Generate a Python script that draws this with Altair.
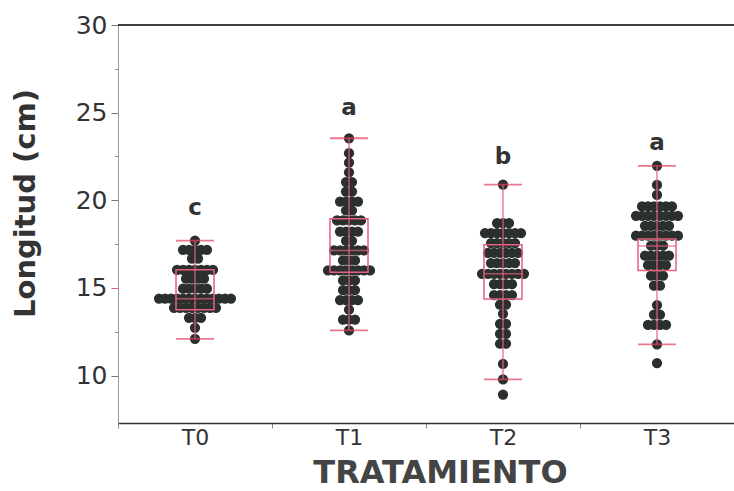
import altair as alt
import pandas as pd

treatments = ["T0", "T1", "T2", "T3"]

# Dot rows (value, number of dots in that row)
t0_vals = [17.7, 17.18, 16.67, 16.04, 15.53, 14.96, 14.39, 13.87, 13.3, 12.73, 12.1]
t0_counts = [1, 5, 2, 7, 4, 5, 13, 8, 3, 1, 1]
t1_vals = [23.54, 22.69, 22.15, 21.6, 21.04, 20.5, 19.93, 19.42, 18.85, 18.22,
           17.69, 17.14, 16.57, 16.0, 15.43, 14.88, 14.31, 13.76, 13.19, 12.58]
t1_counts = [1, 1, 1, 1, 2, 2, 4, 2, 5, 4, 2, 6, 3, 8, 3, 3, 4, 1, 3, 1]
t2_vals = [20.9, 18.7, 18.13, 17.56, 17.0, 16.42, 15.81, 15.22, 14.6, 14.05,
           13.53, 12.96, 12.39, 11.82, 10.67, 9.79, 8.92]
t2_counts = [1, 3, 7, 5, 6, 5, 8, 4, 4, 2, 1, 2, 2, 2, 1, 1, 1]
t3_vals = [21.97, 20.88, 20.31, 19.65, 19.12, 18.55, 17.98, 17.41, 16.84, 16.31,
           15.7, 15.13, 14.03, 13.48, 12.89, 11.79, 10.72]
t3_counts = [1, 1, 1, 6, 8, 5, 8, 3, 5, 4, 3, 2, 1, 2, 4, 1, 1]

# Box plot statistics
box_q1 = [13.76, 15.9, 14.37, 16.0]
box_med = [14.39, 17.14, 15.81, 17.4]
box_q3 = [16.04, 18.95, 17.46, 17.79]
box_lo = [12.1, 12.58, 9.79, 11.79]
box_hi = [17.7, 23.54, 20.9, 21.97]

# Significance letters
letters = ["c", "a", "b", "a"]
letter_y = [19.17, 24.87, 22.08, 22.88]

rows = []
for trt, vals, counts in zip(treatments, [t0_vals, t1_vals, t2_vals, t3_vals],
                             [t0_counts, t1_counts, t2_counts, t3_counts]):
    for v, n in zip(vals, counts):
        for k in range(n):
            rows.append({"trt": trt, "value": v, "slot": k - (n - 1) / 2})
pts = pd.DataFrame(rows)

box = pd.DataFrame({"trt": treatments, "q1": box_q1, "med": box_med, "q3": box_q3,
                    "lo": box_lo, "hi": box_hi, "letter": letters, "ly": letter_y})

FONT = "DejaVu Sans"
PINK = "#e4607f"

x_axis = alt.Axis(title="TRATAMIENTO", tickBand="extent", labelAngle=0,
                  labelFont=FONT, labelFontSize=22, labelColor="#333333",
                  labelPadding=-1, tickSize=5, tickColor="#888888",
                  domainColor="#333333", domainWidth=1.5,
                  titleFont=FONT, titleFontSize=32, titleFontWeight="bold",
                  titleColor="#444444", titleX=322, titleY=49,
                  titleBaseline="middle", titleAlign="center")
y_axis = alt.Axis(title="Longitud (cm)",
                  values=[10, 12.5, 15, 17.5, 20, 22.5, 25, 27.5, 30],
                  labelExpr="datum.value % 5 == 0 ? datum.label : ''",
                  tickSize={"condition": {"test": "datum.value % 5 != 0", "value": 3}, "value": 7},
                  tickColor={"condition": {"test": "datum.value == 15", "value": "#e06070"}, "value": "#777777"},
                  domainColor="#999999", grid=False,
                  labelFont=FONT, labelFontSize=25, labelColor="#333333", labelPadding=4,
                  titleFont=FONT, titleFontSize=29, titleFontWeight="bold",
                  titleColor="#333333", titleX=-93, titleY=178,
                  titleBaseline="middle", titleAlign="center", titleAngle=-90)

xs = alt.Scale(domain=treatments, paddingInner=0, paddingOuter=0)
ys = alt.Scale(domain=[7.3, 30], nice=False, zero=False)


def X():
    return alt.X("trt:N", scale=xs, axis=x_axis, title="TRATAMIENTO")


def Y(field):
    return alt.Y(f"{field}:Q", scale=ys, axis=y_axis, title="Longitud (cm)")


dots = alt.Chart(pts).mark_circle(size=105, color="#2b302e", opacity=1).encode(
    x=X(), y=Y("value"),
    xOffset=alt.XOffset("slot:Q", scale=alt.Scale(domain=[-12.85, 12.85]))
)

whisk = alt.Chart(box).mark_rule(color=PINK, strokeWidth=1.3, opacity=0.9).encode(
    x=X(), y=Y("lo"), y2="hi")
rect = alt.Chart(box).mark_bar(fillOpacity=0, stroke=PINK, strokeWidth=1.5, size=38).encode(
    x=X(), y=Y("q1"), y2="q3")
med = alt.Chart(box).mark_tick(color=PINK, size=38, thickness=1.5).encode(x=X(), y=Y("med"))
cap_lo = alt.Chart(box).mark_tick(color="#e0405f", size=38, thickness=1.8).encode(x=X(), y=Y("lo"))
cap_hi = alt.Chart(box).mark_tick(color="#e0405f", size=38, thickness=1.8).encode(x=X(), y=Y("hi"))
txt = alt.Chart(box).mark_text(font=FONT, fontSize=23, fontWeight="bold", color="#333333",
                               baseline="alphabetic").encode(x=X(), y=Y("ly"), text="letter:N")
topline = alt.Chart(box).mark_rule(color="#333333", strokeWidth=1.2).encode(
    x=alt.value(0), x2=alt.value(616), y=alt.value(0))

chart = alt.layer(dots, whisk, rect, med, cap_lo, cap_hi, txt, topline).properties(
    width=616, height=398,
    autosize=alt.AutoSizeParams(type="none"),
    padding={"left": 118, "top": 25, "right": 0, "bottom": 68},
    background="white",
).configure_view(stroke=None)

chart.save("out.html", embed_options={"renderer": "svg", "actions": False})
